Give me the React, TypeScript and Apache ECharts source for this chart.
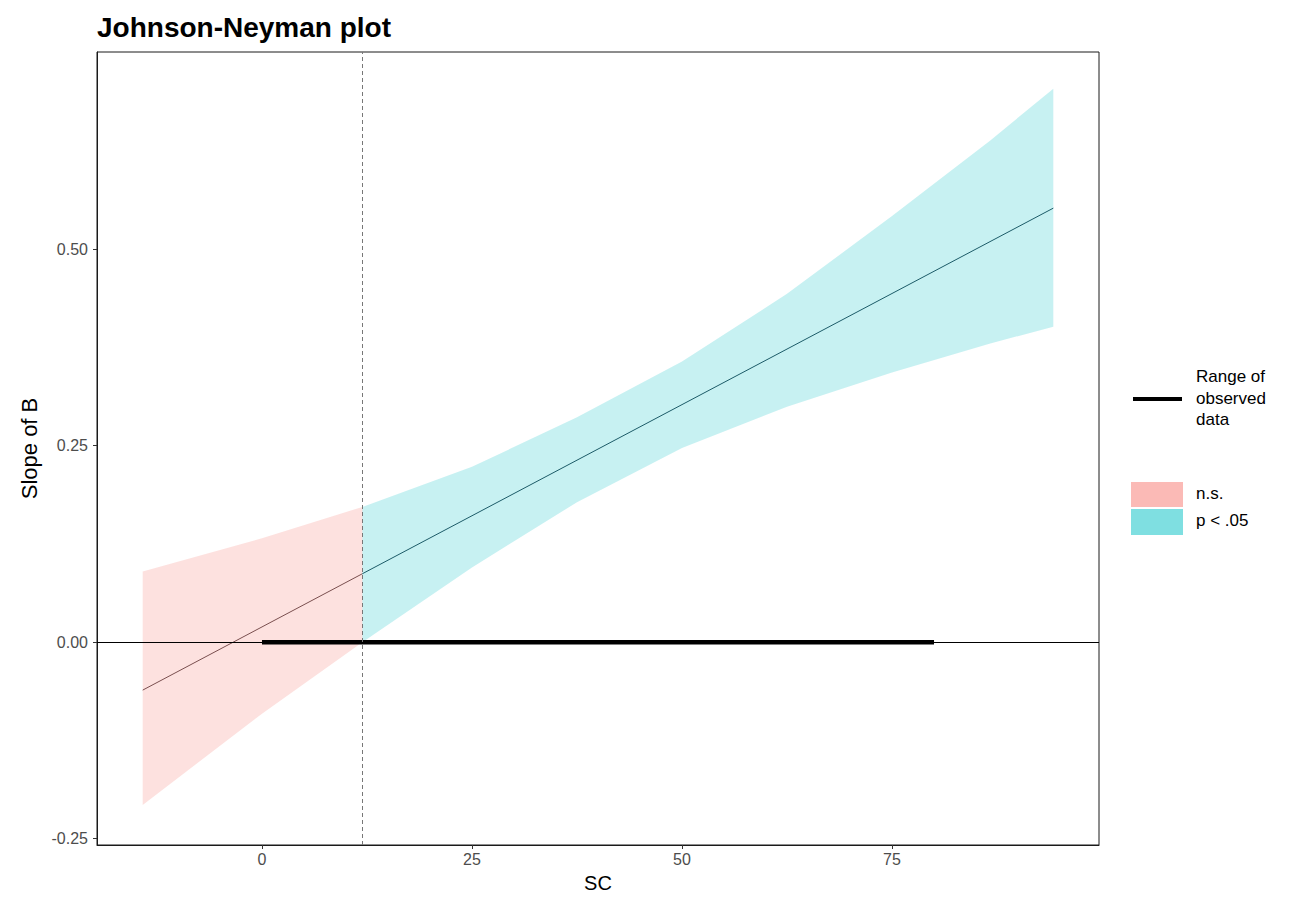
import React, { useEffect, useRef } from "react";
import * as echarts from "echarts";

// ---- Data ----
const chartTitle = "Johnson-Neyman plot";
const xAxisTitle = "SC";
const yAxisTitle = "Slope of B";
const xTickValues = [0, 25, 50, 75];
const yTickValues = [-0.25, 0, 0.25, 0.5];

// confidence band (SC value, lower, upper)
const bandX = [-14.2, 0, 11.95, 25, 37.5, 50, 62.5, 75, 86.7, 94.2];
const bandLower = [-0.207, -0.091, 0.0, 0.095, 0.178, 0.247, 0.2995, 0.343, 0.38, 0.401];
const bandUpper = [0.09, 0.132, 0.172, 0.223, 0.286, 0.357, 0.443, 0.542, 0.638, 0.704];

// Johnson-Neyman point
const jnPoint = 11.95;

// estimated slope line, split at the JN point
const nsSlopeX = [-14.2, 11.95];
const nsSlopeY = [-0.061, 0.087];
const sigSlopeX = [11.95, 94.2];
const sigSlopeY = [0.087, 0.552];

// range of observed data
const observedRangeX = [0, 80];

const legendRangeLabel = "Range of\nobserved\ndata";
const legendNsLabel = "n.s.";
const legendSigLabel = "p < .05";

const FONT = "'Liberation Sans', Arial, Helvetica, sans-serif";

function bandSeries(name: string, color: string, keep: (x: number) => boolean) {
  return {
    type: "custom",
    name,
    silent: true,
    z: 1,
    data: [[jnPoint, 0]],
    renderItem: (_params: any, api: any) => {
      const idx = bandX.map((_, i) => i).filter((i) => keep(bandX[i]));
      const top = idx.map((i) => api.coord([bandX[i], bandUpper[i]]));
      const bottom = idx
        .slice()
        .reverse()
        .map((i) => api.coord([bandX[i], bandLower[i]]));
      return {
        type: "polygon",
        shape: { points: top.concat(bottom) },
        style: { fill: color },
      };
    },
  };
}

export default function App() {
  const ref = useRef<HTMLDivElement>(null);

  useEffect(() => {
    if (!ref.current) return;
    const chart = echarts.init(ref.current, undefined, { renderer: "svg" });

    const axisLineStyle = { color: "#1a1a1a", width: 1 };

    const option: any = {
      animation: false,
      backgroundColor: "#ffffff",
      textStyle: { fontFamily: FONT },
      title: {
        text: chartTitle,
        left: 97,
        top: 13,
        padding: 0,
        textStyle: { fontFamily: FONT, fontSize: 28, fontWeight: "bold", color: "#000" },
      },
      grid: {
        left: 97,
        top: 52,
        width: 1002,
        height: 793,
        show: true,
        borderColor: "#1a1a1a",
        borderWidth: 1,
        backgroundColor: "transparent",
      },
      xAxis: {
        type: "value",
        min: -19.64,
        max: 99.64,
        name: xAxisTitle,
        nameLocation: "middle",
        nameGap: 28,
        nameTextStyle: { fontFamily: FONT, fontSize: 20, color: "#000" },
        axisLine: { show: true, onZero: false, lineStyle: axisLineStyle },
        splitLine: { show: false },
        axisTick: {
          show: true,
          customValues: xTickValues,
          length: 4,
          lineStyle: { color: "#333", width: 1 },
        },
        axisLabel: {
          customValues: xTickValues,
          color: "#4d4d4d",
          fontSize: 16,
          margin: 6,
          fontFamily: FONT,
        },
      },
      yAxis: {
        type: "value",
        min: -0.258,
        max: 0.7506,
        name: yAxisTitle,
        nameLocation: "middle",
        nameRotate: 90,
        nameGap: 56,
        nameTextStyle: { fontFamily: FONT, fontSize: 22, color: "#000" },
        axisLine: { show: true, onZero: false, lineStyle: axisLineStyle },
        splitLine: { show: false },
        axisTick: {
          show: true,
          customValues: yTickValues,
          length: 4,
          lineStyle: { color: "#333", width: 1 },
        },
        axisLabel: {
          customValues: yTickValues,
          color: "#4d4d4d",
          fontSize: 16,
          margin: 9,
          fontFamily: FONT,
          formatter: (v: number) => v.toFixed(2),
        },
      },
      series: [
        bandSeries("n.s.", "rgba(248,118,109,0.22)", (x) => x <= jnPoint),
        bandSeries("p < .05", "rgba(0,191,196,0.22)", (x) => x >= jnPoint),
        {
          type: "line",
          name: "reference lines",
          silent: true,
          z: 2,
          data: [],
          markLine: {
            silent: true,
            symbol: ["none", "none"],
            label: { show: false },
            animation: false,
            data: [
              { yAxis: 0, lineStyle: { color: "#000", width: 1, type: "solid" } },
              { xAxis: jnPoint, lineStyle: { color: "#777", width: 1, type: [4, 3] } },
            ],
          },
        },
        {
          type: "line",
          name: "ns slope",
          z: 3,
          symbol: "none",
          silent: true,
          lineStyle: { color: "#7a4f4f", width: 1 },
          data: nsSlopeX.map((x, i) => [x, nsSlopeY[i]]),
        },
        {
          type: "line",
          name: "sig slope",
          z: 3,
          symbol: "none",
          silent: true,
          lineStyle: { color: "#1c5b68", width: 1 },
          data: sigSlopeX.map((x, i) => [x, sigSlopeY[i]]),
        },
        {
          type: "line",
          name: "observed range",
          z: 4,
          symbol: "none",
          silent: true,
          lineStyle: { color: "#000", width: 4.5, cap: "butt" },
          data: observedRangeX.map((x) => [x, 0]),
        },
      ],
      graphic: [
        {
          type: "line",
          shape: { x1: 1133, y1: 399, x2: 1182, y2: 399 },
          style: { stroke: "#000", lineWidth: 4 },
        },
        {
          type: "text",
          x: 1196,
          y: 366,
          style: {
            text: legendRangeLabel,
            fontSize: 17,
            lineHeight: 21.5,
            fontFamily: FONT,
            fill: "#000",
          },
        },
        {
          type: "rect",
          shape: { x: 1131, y: 482, width: 52, height: 25 },
          style: { fill: "rgba(248,118,109,0.5)" },
        },
        {
          type: "rect",
          shape: { x: 1131, y: 509, width: 52, height: 26 },
          style: { fill: "rgba(0,191,196,0.5)" },
        },
        {
          type: "text",
          x: 1196,
          y: 485,
          style: { text: legendNsLabel, fontSize: 17, fontFamily: FONT, fill: "#000" },
        },
        {
          type: "text",
          x: 1196,
          y: 512,
          style: { text: legendSigLabel, fontSize: 17, fontFamily: FONT, fill: "#000" },
        },
      ],
    };

    chart.setOption(option);
    return () => chart.dispose();
  }, []);

  return (
    <div
      ref={ref}
      style={{ position: "fixed", left: 0, top: 0, width: 1295, height: 906 }}
    />
  );
}
